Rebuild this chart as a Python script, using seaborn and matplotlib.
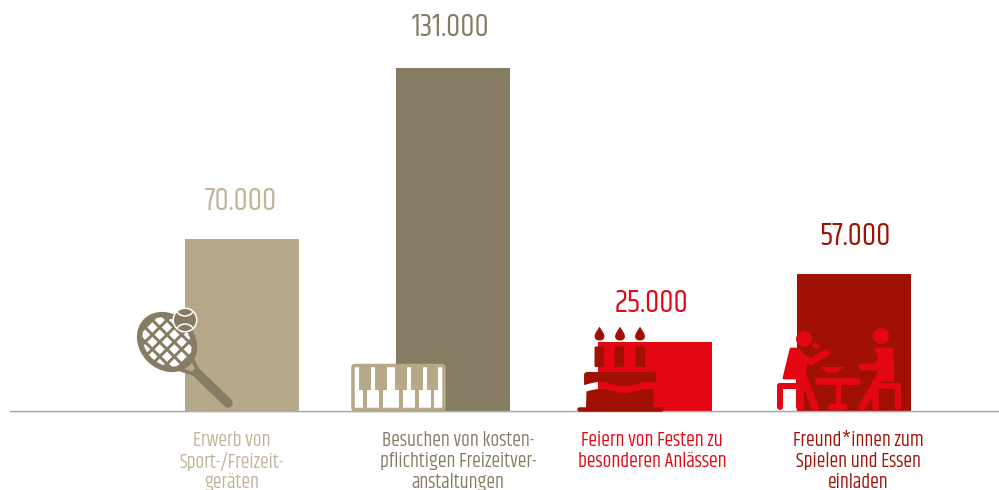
import numpy as np
import pandas as pd
import matplotlib
matplotlib.use("Agg")
import matplotlib.pyplot as plt
from matplotlib.patches import Circle, Ellipse, Polygon, FancyBboxPatch, Rectangle, Arc
import seaborn as sns

# ---- data ----
categories = ["Erwerb von\nSport-/Freizeit-\ngeräten",
              "Besuchen von kosten-\npflichtigen Freizeitver-\nanstaltungen",
              "Feiern von Festen zu\nbesonderen Anlässen",
              "Freund*innen zum\nSpielen und Essen\neinladen"]
value_labels = ["70.000", "131.000", "25.000", "57.000"]
# bar heights as drawn in the picture (the bars are not exactly to scale with the labels)
bar_heights = [65700, 131000, 26400, 52300]

# ---- layout / style ----
bar_colors = ["#b5a98a", "#857c63", "#e30613", "#a01005"]
label_colors = ["#bfb498", "#857c63", "#e30613", "#a01005"]
bar_centers = [242, 453, 655, 854]
value_xy = [(241, 200), (451, 26), (652, 302), (855, 235)]
label_x = [232, 458, 652, 858]
BASE = 411.0
TOP = 68.0
W, H = 999, 490
FONT = ["Khand", "Barlow Condensed", "Roboto", "DejaVu Sans"]

sns.set_theme(style="white")
plt.rcParams["font.family"] = FONT

fig = plt.figure(figsize=(W / 100, H / 100), dpi=100, facecolor="white")
ax = fig.add_axes([0, 0, 1, 1])
df = pd.DataFrame({"x": bar_centers, "h": bar_heights, "c": categories})
sns.barplot(data=df, x="x", y="h", hue="c", palette=bar_colors, native_scale=True,
            width=114 / 199, dodge=False, legend=False, saturation=1, linewidth=0, ax=ax)
per_px = bar_heights[1] / (BASE - TOP)
ax.set_xlim(0, W)
ax.set_ylim(-(H - BASE) * per_px, BASE * per_px)
ax.axis("off")

# overlay in image pixel coordinates for text and decorative icons
ov = fig.add_axes([0, 0, 1, 1], facecolor="none")
ov.set_xlim(0, W)
ov.set_ylim(H, 0)
ov.axis("off")

PT = 0.72


def line(xs, ys, color, w, cap="round", z=5):
    ov.plot(xs, ys, color=color, lw=w * PT, solid_capstyle=cap, solid_joinstyle="round", zorder=z)


# baseline
ov.plot([10, 998], [411.0, 411.0], color="#a8a8a8", lw=1.0, zorder=1)
ov.plot([10, 998], [412.0, 412.0], color="#e2e2e2", lw=0.8, zorder=1)

# text
for (x, y), s, c in zip(value_xy, value_labels, label_colors):
    ov.text(x, y, s, color=c, fontsize=23, fontweight=400, ha="center", va="center", zorder=6)
line_ys = [440, 461, 482]
for x, s, c in zip(label_x, categories, label_colors):
    for yy, part in zip(line_ys, s.split("\n")):
        ov.text(x, yy, part, color=c, fontsize=14.3, fontweight=400, ha="center", va="center", zorder=6)

# ---- racket ----
RC = "#857c63"
cx, cy = 167, 342
ov.add_patch(Ellipse((cx, cy), 65, 55, angle=45, color=RC, zorder=5, lw=0))
inner = Ellipse((cx, cy), 54, 44, angle=45, fc="none", ec="none")
ov.add_patch(inner)
for i in range(-5, 6):
    for j in range(-5, 6):
        px = cx + (i - j) * 7.3
        py = cy + (i + j) * 7.3
        d = Polygon([(px - 5.2, py), (px, py - 5.2), (px + 5.2, py), (px, py + 5.2)],
                    fc="white", ec="none", zorder=6)
        ov.add_patch(d)
        d.set_clip_path(inner)
line([197, 228], [373, 403], RC, 9.5)
line([178, 200], [369, 376], RC, 3.5)
line([191, 201], [357, 376], RC, 3.5)
ov.add_patch(Circle((185, 320), 12.5, fc="white", ec="none", zorder=7))
ov.add_patch(Circle((185, 320), 11, fc=RC, ec="none", zorder=8))
ov.add_patch(Arc((185, 306), 20, 20, theta1=30, theta2=150, ec="white", lw=1.1, zorder=9))
ov.add_patch(Arc((185, 334), 20, 20, theta1=210, theta2=330, ec="white", lw=1.1, zorder=9))

# ---- piano ----
PC = "#b5a98a"
ov.add_patch(FancyBboxPatch((353, 365.5), 91, 44, boxstyle="round,pad=0,rounding_size=1.5",
                            fc="white", ec=PC, lw=3.5 * PT, zorder=5))
for k0, k1 in [(359, 371), (375, 387), (395, 407), (411, 423), (427, 438)]:
    ov.add_patch(Rectangle((k0, 366), k1 - k0, 24, fc=PC, ec="none", zorder=6))
    ov.add_patch(Rectangle(((k0 + k1) / 2 - 1.6, 389), 3.2, 20, fc=PC, ec="none", zorder=6))

# ---- cake ----
CC = "#a01005"
t = np.linspace(0, 2 * np.pi, 60)
for fx, c0 in zip([599.5, 620, 640], [594, 614, 635]):
    ov.add_patch(FancyBboxPatch((c0 + .5, 346.5), 9.5, 20.5, boxstyle="round,pad=0,rounding_size=1.2",
                                fc=CC, ec="none", zorder=5))
    ov.add_patch(Polygon(np.c_[fx + 7 * np.sin(t) * np.sin(t / 2) ** 1.5, 333.5 - 7 * np.cos(t)],
                         fc=CC, ec="none", zorder=5))
xs = np.linspace(584, 656, 60)
wave = 2.0 * np.sin((xs - 584) / 72 * 2 * np.pi * 1.5 + 2.6)
ov.add_patch(FancyBboxPatch((584, 372), 72, 9, boxstyle="round,pad=0,rounding_size=3",
                            fc=CC, ec="none", zorder=5))
ov.add_patch(Polygon(np.r_[np.c_[xs, 384 + wave], [[656, 378], [584, 378]]], fc=CC, ec="none", zorder=5))
ov.add_patch(Polygon(np.r_[np.c_[xs[2:-2], 391 + wave[2:-2]], [[653, 408], [586, 408]]],
                     fc=CC, ec="none", zorder=5))
line([579, 661], [409, 409], CC, 4.5)

# ---- friends at table ----
FC = "#e30613"
ov.add_patch(Circle((804, 339), 8, fc=FC, ec="none", zorder=5))
ov.add_patch(Circle((881, 336), 8, fc=FC, ec="none", zorder=5))
ov.add_patch(Polygon([(791, 349), (798, 349), (806, 360), (804, 378), (784, 378)],
                     fc=FC, ec=FC, lw=2, joinstyle="round", zorder=5))
line([795, 811, 826], [354, 362, 353], FC, 7)
ov.add_patch(Ellipse((816, 346), 8, 5, angle=20, fc=FC, ec="none", zorder=5))
line([804, 815], [379, 407], FC, 7.5)
line([800, 800], [380, 407], FC, 8)
line([780, 800], [385.5, 385.5], FC, 6)
line([779.5, 779.5], [386, 407], FC, 6)
# table and bowl
line([818, 857], [380.5, 380.5], FC, 7)
line([838, 838], [381, 407], FC, 5)
line([831, 845], [407, 407], FC, 6)
ov.add_patch(Polygon([(820, 367), (844, 367), (836, 373), (828, 373)], fc=FC, ec="none", zorder=5))
# right person
ov.add_patch(Polygon([(876, 349), (892, 349), (893, 380), (876, 380), (882, 365)],
                     fc=FC, ec=FC, lw=2, joinstyle="round", zorder=5))
line([886, 876, 862], [353, 367, 367], FC, 7)
line([879, 862], [379, 407], FC, 7.5)
line([875, 875], [381, 407], FC, 6.5)
line([876, 897], [385.5, 385.5], FC, 6)
line([897.5, 897.5], [386, 407], FC, 6)

fig.savefig("out.png", dpi=100, facecolor="white")
